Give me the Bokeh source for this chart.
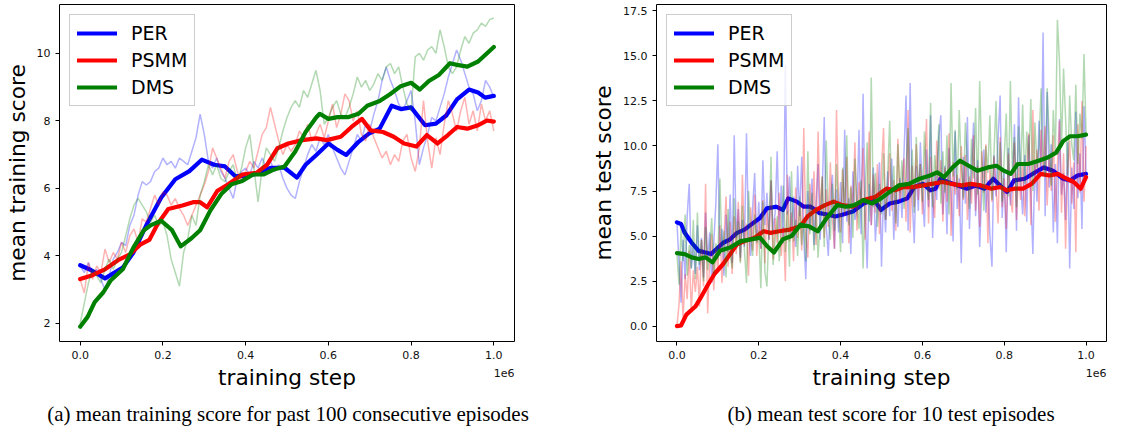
import numpy as np
from bokeh.plotting import figure
from bokeh.models import (Range1d, FixedTicker, CustomJSTickFormatter, Label,
                          Legend, LegendItem, PrintfTickFormatter, Div, Spacer)
from bokeh.layouts import row, column
from bokeh.embed import file_html
from bokeh.resources import INLINE

# ---------------- data: (a) mean training score ----------------
# smoothed curves: training step (in units of 1e6) and value
per_tr_s = [0, 0.026, 0.06, 0.103, 0.128, 0.162, 0.196, 0.23, 0.264, 0.294, 0.324, 0.35, 0.375, 0.40,
            0.435, 0.46, 0.494, 0.524, 0.545, 0.571, 0.60, 0.622, 0.643, 0.673, 0.698, 0.724, 0.753,
            0.775, 0.80, 0.834, 0.86, 0.885, 0.911, 0.94, 0.962, 0.979, 1.0]
per_tr_v = [3.72, 3.58, 3.33, 3.65, 4.08, 4.96, 5.73, 6.27, 6.51, 6.85, 6.70, 6.65, 6.36, 6.36,
            6.46, 6.61, 6.61, 6.32, 6.70, 6.99, 7.33, 7.14, 6.99, 7.38, 7.62, 7.77, 8.45,
            8.35, 8.40, 7.87, 7.92, 8.16, 8.64, 8.93, 8.84, 8.69, 8.74]
psmm_tr_s = [0, 0.026, 0.06, 0.094, 0.12, 0.145, 0.167, 0.188, 0.213, 0.247, 0.273, 0.29, 0.307,
             0.332, 0.358, 0.392, 0.426, 0.452, 0.477, 0.503, 0.537, 0.571, 0.596, 0.63, 0.656,
             0.681, 0.702, 0.732, 0.758, 0.783, 0.813, 0.838, 0.864, 0.889, 0.911, 0.936, 0.962,
             0.983, 1.0]
psmm_tr_v = [3.31, 3.41, 3.60, 3.89, 4.04, 4.33, 4.47, 4.96, 5.39, 5.49, 5.59, 5.59, 5.44,
             5.93, 6.12, 6.41, 6.46, 6.70, 7.19, 7.33, 7.43, 7.48, 7.43, 7.53, 7.82,
             8.06, 7.72, 7.67, 7.53, 7.33, 7.24, 7.58, 7.33, 7.58, 7.82, 7.77, 7.87,
             8.01, 7.98]
dms_tr_s = [0, 0.018, 0.035, 0.056, 0.073, 0.103, 0.128, 0.154, 0.171, 0.196, 0.222, 0.243, 0.269,
            0.29, 0.315, 0.341, 0.366, 0.392, 0.418, 0.443, 0.469, 0.494, 0.52, 0.545, 0.571,
            0.579, 0.60, 0.622, 0.647, 0.673, 0.694, 0.724, 0.749, 0.775, 0.80, 0.821, 0.843,
            0.868, 0.894, 0.911, 0.936, 0.962, 0.983, 1.0]
dms_tr_v = [1.90, 2.19, 2.63, 2.92, 3.26, 3.60, 4.23, 4.76, 4.91, 5.04, 4.76, 4.28, 4.52,
            4.76, 5.35, 5.83, 6.12, 6.22, 6.41, 6.41, 6.56, 6.65, 7.09, 7.67, 8.11,
            8.21, 8.06, 8.11, 8.11, 8.21, 8.45, 8.59, 8.79, 9.03, 9.13, 8.93, 9.18,
            9.37, 9.71, 9.66, 9.61, 9.76, 10.0, 10.19]

# raw curves, one value every 0.01e6 steps
per_tr_raw = [3.7, 3.5, 3.8, 3.4, 3.6, 3.3, 3.0, 3.4, 3.9, 4.1,
              4.4, 4.3, 4.9, 5.2, 5.8, 6.2, 6.1, 6.2, 6.5, 6.6,
              6.9, 6.7, 6.8, 6.6, 6.9, 6.8, 6.7, 7.1, 7.5, 8.2,
              7.6, 6.8, 6.6, 6.9, 6.5, 6.3, 6.0, 5.7, 6.3, 6.5,
              6.6, 6.4, 6.8, 6.6, 6.9, 6.6, 6.8, 6.5, 6.7, 6.3,
              6.0, 5.8, 5.7, 6.2, 6.6, 7.0, 7.3, 7.1, 7.5, 7.3,
              7.6, 7.2, 6.9, 6.6, 6.4, 6.8, 7.2, 7.6, 7.4, 7.9,
              7.7, 8.2, 8.6, 9.2, 9.6, 9.2, 8.9, 8.5, 8.3, 8.6,
              8.9, 8.0, 6.7, 7.2, 7.6, 8.1, 8.0, 8.4, 8.8, 9.3,
              9.7, 10.1, 9.8, 9.4, 9.0, 8.8, 8.3, 8.6, 9.2, 9.0, 8.7]
psmm_tr_raw = [3.3, 2.9, 3.8, 3.3, 3.7, 3.5, 4.2, 3.8, 4.1, 3.9,
               4.4, 4.1, 4.6, 4.8, 4.4, 5.1, 5.0, 5.4, 5.8, 5.5,
               5.9, 5.8, 5.5, 5.7, 5.4, 5.2, 4.9, 5.2, 5.5, 5.8,
               6.1, 6.5, 7.2, 6.9, 6.6, 6.3, 6.8, 7.0, 6.5, 6.2,
               6.5, 6.8, 6.6, 7.1, 7.6, 7.8, 8.4, 7.9, 7.4, 7.0,
               7.3, 7.1, 7.3, 7.7, 7.5, 7.9, 7.4, 7.6, 7.9, 7.5,
               8.0, 8.5, 7.8, 8.2, 8.8, 8.6, 8.0, 8.3, 7.6, 7.4,
               7.9, 7.5, 7.2, 6.9, 7.1, 6.7, 7.0, 6.8, 7.4, 7.6,
               6.9, 6.5, 7.2, 8.6, 7.4, 6.6, 7.5, 7.0, 7.9, 8.6,
               8.2, 7.7, 8.3, 8.7, 7.9, 8.3, 7.7, 8.5, 8.0, 8.3, 7.7]
dms_tr_raw = [2.0, 2.6, 3.2, 3.6, 3.4, 3.2, 3.6, 3.9, 3.6, 3.9,
              4.1, 4.6, 5.1, 5.5, 5.7, 5.5, 5.3, 5.0, 5.2, 4.9,
              5.0, 4.6, 3.9, 3.5, 3.1, 4.1, 4.5, 5.2, 4.9, 5.8,
              6.2, 6.7, 6.4, 6.7, 6.3, 6.2, 6.5, 6.7, 6.2, 6.6,
              7.2, 7.6, 6.6, 5.6, 6.6, 7.2, 7.0, 6.8, 7.2, 7.7,
              8.1, 8.4, 8.6, 8.4, 8.9, 8.7, 9.1, 9.5, 8.9, 7.9,
              8.1, 8.4, 8.6, 8.2, 8.1, 8.4, 8.8, 9.3, 9.0, 9.2,
              8.9, 9.1, 9.4, 9.2, 9.6, 9.7, 9.4, 9.6, 9.0, 8.5,
              8.3, 9.9, 10.0, 9.8, 10.1, 10.2, 10.0, 10.7, 10.2, 9.6,
              9.4, 9.6, 10.1, 10.5, 10.3, 10.6, 10.7, 10.9, 10.8, 11.0, 11.05]

# ---------------- data: (b) mean test score ----------------
per_te_s = [0, 0.010, 0.019, 0.036, 0.053, 0.07, 0.083, 0.096, 0.113, 0.13, 0.147, 0.165, 0.186,
            0.203, 0.22, 0.242, 0.259, 0.272, 0.293, 0.31, 0.327, 0.349, 0.37, 0.387, 0.404,
            0.43, 0.456, 0.482, 0.499, 0.52, 0.542, 0.563, 0.58, 0.602, 0.619, 0.632, 0.644,
            0.662, 0.687, 0.709, 0.73, 0.752, 0.773, 0.794, 0.807, 0.824, 0.85, 0.876, 0.897,
            0.919, 0.944, 0.961, 0.979, 1.0]
per_te_v = [5.76, 5.67, 5.18, 4.63, 4.18, 4.09, 4.0, 4.27, 4.63, 4.82, 5.18, 5.36, 5.72,
            6.0, 6.54, 6.63, 6.45, 7.09, 6.91, 6.63, 6.63, 6.27, 6.18, 6.09, 6.18,
            6.36, 6.81, 7.0, 6.45, 6.81, 6.91, 7.09, 7.72, 7.90, 7.54, 7.63, 8.18,
            8.0, 7.81, 7.63, 7.81, 7.63, 8.18, 7.72, 7.45, 8.09, 8.18, 8.54, 8.81,
            8.63, 8.18, 8.09, 8.36, 8.45]
psmm_te_s = [0, 0.01, 0.023, 0.045, 0.057, 0.075, 0.092, 0.113, 0.13, 0.147, 0.165, 0.19, 0.212,
             0.229, 0.25, 0.276, 0.302, 0.319, 0.34, 0.362, 0.383, 0.404, 0.43, 0.456, 0.486,
             0.512, 0.533, 0.554, 0.576, 0.602, 0.623, 0.649, 0.67, 0.696, 0.717, 0.743, 0.769,
             0.79, 0.807, 0.824, 0.846, 0.867, 0.889, 0.91, 0.931, 0.953, 0.97, 0.987, 1.0]
psmm_te_v = [0.0, 0.04, 0.64, 1.09, 1.54, 2.27, 2.91, 3.45, 4.0, 4.54, 4.72, 4.91, 5.27,
             5.18, 5.27, 5.36, 5.54, 6.09, 6.45, 6.72, 6.91, 6.72, 6.63, 7.0, 7.18,
             7.63, 7.54, 7.72, 7.72, 7.81, 7.90, 8.0, 7.90, 7.81, 7.90, 7.81, 7.63,
             7.72, 7.54, 7.63, 7.63, 7.90, 8.45, 8.36, 8.45, 8.18, 8.0, 7.63, 8.27]
dms_te_s = [0, 0.019, 0.036, 0.053, 0.07, 0.087, 0.105, 0.13, 0.156, 0.182, 0.203, 0.22, 0.237,
            0.259, 0.28, 0.302, 0.323, 0.344, 0.366, 0.392, 0.413, 0.434, 0.456, 0.477, 0.499,
            0.52, 0.542, 0.567, 0.593, 0.619, 0.636, 0.653, 0.674, 0.692, 0.713, 0.734, 0.76,
            0.781, 0.799, 0.816, 0.833, 0.859, 0.884, 0.906, 0.927, 0.944, 0.961, 0.979, 1.0]
dms_te_v = [4.05, 4.0, 3.82, 3.73, 3.82, 3.54, 4.18, 4.36, 4.72, 4.82, 4.91, 4.45, 4.09,
            4.82, 5.0, 5.63, 5.54, 5.27, 6.0, 6.72, 6.63, 6.72, 7.0, 6.81, 7.09,
            7.45, 7.81, 7.90, 8.18, 8.36, 8.54, 8.27, 8.81, 9.18, 8.90, 8.63, 8.81,
            8.90, 8.63, 8.45, 9.0, 9.0, 9.18, 9.36, 9.63, 10.27, 10.54, 10.54, 10.63]

# raw curves, one value every 0.005e6 steps
per_te_raw = [5.8, 3.5, 1.3, 4.8, 2.6, 6.1, 7.9, 3.2, 4.4, 2.9,
              5.6, 3.1, 4.9, 2.7, 6.3, 3.6, 5.2, 2.4, 4.6, 6.8,
              10.1, 3.9, 5.4, 2.8, 6.2, 4.1, 7.3, 3.5, 10.6, 4.9,
              6.5, 3.8, 5.9, 4.4, 10.7, 5.1, 3.9, 6.6, 8.5, 4.7,
              6.9, 4.3, 9.2, 5.6, 7.4, 4.8, 8.1, 5.2, 6.3, 9.7,
              5.4, 7.8, 4.6, 14.5, 6.2, 8.3, 5.1, 7.2, 4.4, 8.9,
              6.1, 9.4, 4.9, 2.6, 7.5, 5.3, 8.2, 4.5, 6.8, 9.0,
              4.8, 7.3, 11.6, 5.5, 3.9, 6.9, 8.4, 4.3, 7.6, 5.2,
              8.0, 4.6, 10.9, 5.8, 7.1, 4.0, 8.6, 5.9, 6.4, 10.9,
              5.1, 12.9, 6.3, 3.2, 7.9, 5.6, 8.8, 4.7, 6.6, 9.1,
              3.3, 7.4, 5.2, 8.6, 6.1, 9.3, 4.8, 7.7, 5.5, 8.2,
              6.0, 9.6, 12.8, 5.3, 13.5, 7.1, 4.6, 8.9, 6.4, 10.2,
              7.3, 5.5, 9.8, 6.6, 11.7, 4.9, 8.4, 7.0, 10.5, 11.7,
              6.2, 8.9, 5.1, 9.9, 7.6, 4.7, 10.8, 6.5, 8.2, 3.5,
              9.4, 6.8, 11.6, 5.4, 8.7, 11.3, 6.1, 9.2, 4.4, 7.5,
              9.8, 6.3, 8.1, 5.0, 3.3, 9.5, 7.2, 10.4, 12.8, 6.0,
              8.6, 4.1, 9.9, 6.7, 7.8, 11.2, 5.3, 12.7, 8.0, 6.2,
              9.5, 5.8, 10.6, 7.4, 4.0, 9.2, 6.9, 11.4, 8.3, 16.3,
              6.1, 13.0, 7.7, 10.1, 5.2, 9.0, 4.6, 11.5, 7.3, 8.5,
              5.9, 10.2, 3.2, 8.8, 6.5, 11.9, 7.1, 9.6, 5.4, 12.2,
              8.5]
psmm_te_raw = [0.0, 1.2, 3.6, 0.4, 2.9, 1.5, 4.2, 0.8, 3.1, 1.9,
               3.3, 1.1, 4.8, 2.2, 7.9, 0.7, 3.6, 5.1, 2.0, 4.4,
               3.0, 5.6, 2.4, 4.9, 7.2, 3.3, 5.8, 2.9, 6.1, 4.0,
               6.9, 3.6, 8.4, 4.5, 5.7, 2.8, 6.6, 4.2, 7.3, 3.9,
               5.8, 4.3, 7.0, 3.5, 6.4, 4.8, 8.1, 3.7, 6.0, 4.6,
               7.4, 3.9, 5.5, 2.5, 8.4, 4.7, 6.3, 3.6, 7.7, 4.9,
               6.8, 4.2, 11.0, 5.1, 3.8, 7.9, 5.4, 8.6, 4.5, 10.8,
               6.2, 8.3, 4.9, 7.6, 5.5, 9.1, 6.0, 4.3, 12.0, 6.8,
               5.2, 8.7, 6.1, 9.4, 4.6, 7.8, 6.5, 10.2, 5.3, 8.0,
               6.7, 9.9, 4.8, 7.5, 10.8, 5.6, 8.4, 6.3, 9.0, 5.1,
               8.8, 11.0, 5.9, 7.2, 9.6, 6.4, 8.1, 5.3, 10.4, 6.9,
               7.8, 9.3, 5.8, 12.0, 5.2, 8.9, 6.6, 10.1, 7.0, 9.0,
               6.2, 8.5, 11.5, 5.7, 9.4, 7.1, 6.0, 10.3, 7.6, 9.2,
               5.8, 8.8, 6.9, 10.7, 5.0, 9.1, 7.3, 8.4, 6.1, 10.0,
               7.0, 9.5, 5.9, 8.3, 6.8, 10.6, 6.4, 8.9, 5.5, 9.7,
               7.4, 10.1, 4.6, 8.7, 6.9, 9.4, 7.8, 5.7, 10.5, 6.6,
               8.2, 5.4, 9.6, 7.1, 6.3, 10.2, 5.9, 8.8, 7.0, 9.1,
               6.1, 8.5, 10.7, 5.6, 12.0, 7.9, 9.8, 6.4, 10.9, 8.3,
               11.1, 6.7, 9.4, 7.5, 10.6, 5.8, 8.9, 11.4, 6.3, 9.6,
               4.3, 8.7, 10.3, 6.8, 9.1, 4.1, 11.2, 7.4, 12.5, 6.9,
               10.0]
dms_te_raw = [4.0, 2.3, 5.4, 3.6, 6.2, 2.8, 4.5, 3.2, 5.9, 2.6,
              6.3, 3.4, 4.8, 2.5, 5.5, 3.1, 4.2, 6.0, 2.9, 4.6,
              3.7, 8.2, 4.1, 5.3, 2.7, 6.5, 4.0, 3.2, 7.1, 4.4,
              5.8, 3.5, 6.7, 4.2, 2.4, 7.5, 5.1, 3.9, 6.2, 4.6,
              5.3, 2.1, 6.9, 3.0, 2.2, 5.6, 9.4, 3.4, 4.8, 6.1,
              3.6, 5.2, 7.8, 4.1, 6.4, 3.3, 8.6, 4.7, 5.9, 3.9,
              7.2, 4.5, 6.0, 3.6, 9.7, 5.1, 7.4, 4.2, 6.6, 3.8,
              5.9, 8.3, 4.4, 10.3, 6.2, 4.8, 7.9, 5.3, 9.0, 6.5,
              4.1, 8.8, 6.3, 10.6, 5.6, 7.7, 4.9, 9.3, 6.8, 5.4,
              8.1, 3.2, 7.4, 10.2, 5.8, 13.8, 6.6, 8.5, 5.5, 7.9,
              6.2, 9.6, 5.9, 8.3, 11.4, 6.8, 8.9, 5.7, 10.1, 7.4,
              9.2, 6.5, 8.7, 11.0, 7.1, 9.8, 6.3, 10.5, 7.7, 9.0,
              6.9, 10.8, 8.1, 7.0, 12.4, 6.6, 9.5, 8.0, 11.2, 6.8,
              9.7, 7.4, 10.6, 6.2, 13.5, 8.3, 10.9, 7.6, 12.0, 8.8,
              7.1, 11.3, 9.0, 6.5, 10.4, 8.2, 12.1, 7.3, 13.6, 9.2,
              6.4, 10.0, 8.5, 11.7, 7.0, 9.6, 12.5, 7.8, 10.2, 6.9,
              9.4, 11.8, 7.2, 13.6, 8.6, 10.5, 6.6, 11.1, 8.0, 12.3,
              7.9, 10.8, 9.1, 12.6, 7.5, 11.3, 8.8, 10.0, 13.2, 9.5,
              8.3, 13.2, 10.4, 7.8, 12.0, 9.6, 17.0, 14.7, 9.9, 14.3,
              11.5, 8.4, 12.8, 10.1, 9.2, 13.4, 9.0, 11.8, 10.4, 15.1,
              10.7]

series_names = ["PER", "PSMM", "DMS"]
series_colors = ["#0000ff", "#ff0000", "#008000"]
x_tick_values = [0, 200000, 400000, 600000, 800000, 1000000]
train_y_ticks = [2, 4, 6, 8, 10]
test_y_ticks = [0, 2.5, 5, 7.5, 10, 12.5, 15, 17.5]
x_label = "training step"
offset_text = "1e6"
captions = ["(a) mean training score for past 100 consecutive episodes",
            "(b) mean test score for 10 test episodes"]

FONT = "DejaVu Sans"
MAIN_H = 363
STRIP_H = 34
CAP_H = 25
X_START, X_END = -50000, 1050000


def make_panel(width, mbl, mbr, yr, yticks, yfmt, ylabel, smooth, raw):
    xr = Range1d(X_START, X_END)
    p = figure(width=width, height=MAIN_H, output_backend="svg", toolbar_location=None,
               x_range=xr, y_range=Range1d(*yr),
               min_border_left=mbl, min_border_right=mbr, min_border_top=4, min_border_bottom=22)
    p.grid.visible = False
    p.background_fill_color = "white"
    p.border_fill_color = "white"
    p.outline_line_color = "black"
    p.outline_line_width = 1
    p.outline_line_alpha = 1

    for ax in (p.xaxis[0], p.yaxis[0]):
        ax.axis_line_color = None
        ax.major_tick_line_color = "black"
        ax.major_tick_in = 0
        ax.major_tick_out = 4
        ax.minor_tick_line_color = None
        ax.major_label_text_font = FONT
        ax.major_label_text_font_size = "11px"
        ax.major_label_text_color = "#111111"
        ax.axis_label_text_font = FONT
        ax.axis_label_text_font_size = "21.7px"
        ax.axis_label_text_font_style = "normal"
        ax.axis_label_text_color = "black"
        ax.major_label_standoff = 5

    p.xaxis.ticker = FixedTicker(ticks=x_tick_values)
    p.xaxis.formatter = CustomJSTickFormatter(code="return (tick/1e6).toFixed(1);")

    p.yaxis.ticker = FixedTicker(ticks=yticks)
    p.yaxis.formatter = PrintfTickFormatter(format=yfmt)
    p.yaxis.axis_label = ylabel
    p.yaxis.axis_label_standoff = 4

    items = []
    for name, color, (sx, sv), rv in zip(series_names, series_colors, smooth, raw):
        rx = np.linspace(0, 1e6, len(rv))
        p.line(rx, rv, line_color=color, line_alpha=0.3, line_width=1.5)
        r = p.line([s * 1e6 for s in sx], sv, line_color=color, line_width=4.2,
                   line_join="round", line_cap="round")
        items.append(LegendItem(label=name, renderers=[r]))

    leg = Legend(items=items, location="top_left", margin=10,
                 label_text_font=FONT, label_text_font_size="19px", label_text_color="black",
                 glyph_width=40, glyph_height=22, label_standoff=14, spacing=5, padding=7,
                 border_line_color="#cccccc", border_line_width=1, border_line_alpha=1,
                 background_fill_color="white", background_fill_alpha=0.8)
    p.add_layout(leg)

    # strip under the axis with the same frame: axis title and offset text
    s = figure(width=width, height=STRIP_H, output_backend="svg", toolbar_location=None,
               x_range=xr, y_range=Range1d(0, STRIP_H), x_axis_type=None, y_axis_type=None,
               min_border_left=mbl, min_border_right=mbr, min_border_top=0, min_border_bottom=0)
    s.title.visible = False
    s.outline_line_color = None
    s.background_fill_color = "white"
    s.border_fill_color = "white"
    s.add_layout(Label(x=(X_START + X_END) / 2, y=STRIP_H - 14.3, text=x_label, text_font=FONT,
                       text_font_size="21.7px", text_color="black", text_align="center",
                       text_baseline="middle"))
    s.add_layout(Label(x=X_END, y=STRIP_H - 9, text=offset_text, text_font=FONT,
                       text_font_size="11px", text_color="#111111", text_align="right",
                       text_baseline="middle"))
    return column(p, s)


def caption_div(text, width):
    return Div(text=text, width=width, height=CAP_H,
               styles={"font-family": "'Liberation Serif', serif", "font-size": "21px",
                       "text-align": "center", "white-space": "nowrap", "color": "black",
                       "line-height": "25px"})


c1 = make_panel(588, 59, 74, (1.46, 11.45), train_y_ticks, "%d", "mean training score",
                [(per_tr_s, per_tr_v), (psmm_tr_s, psmm_tr_v), (dms_tr_s, dms_tr_v)],
                [per_tr_raw, psmm_tr_raw, dms_tr_raw])
c2 = make_panel(519, 64, 1, (-0.85, 17.85), test_y_ticks, "%.1f", "mean test score",
                [(per_te_s, per_te_v), (psmm_te_s, psmm_te_v), (dms_te_s, dms_te_v)],
                [per_te_raw, psmm_te_raw, dms_te_raw])

cap_row = row(caption_div(captions[0], 566), Spacer(width=80, height=CAP_H),
              caption_div(captions[1], 460))
layout = column(row(c1, c2), cap_row)
open("out.html", "w").write(file_html(layout, INLINE))
